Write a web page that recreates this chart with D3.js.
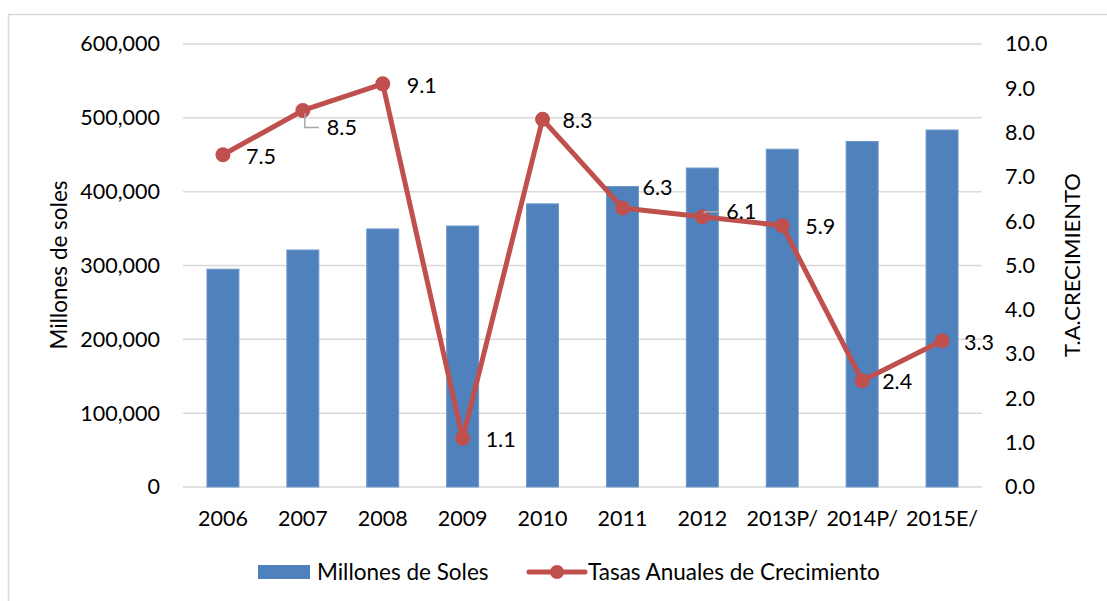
<!DOCTYPE html>
<html>
<head>
<meta charset="utf-8">
<script src="https://cdn.jsdelivr.net/npm/d3@7"></script>
<style>
  body { margin: 0; background: #fff; }
  text { font-family: Lato, "Open Sans", sans-serif; fill: #000; }
</style>
</head>
<body>
<div id="chart"></div>
<script>
// data
var years = ["2006", "2007", "2008", "2009", "2010", "2011", "2012", "2013P/", "2014P/", "2015E/"];
var soles = [295000, 321000, 349500, 353500, 383500, 407000, 432000, 457500, 468000, 483500];
var tasas = [7.5, 8.5, 9.1, 1.1, 8.3, 6.3, 6.1, 5.9, 2.4, 3.3];
var solesTicks = [0, 100000, 200000, 300000, 400000, 500000, 600000];
var tasasTicks = [0, 1, 2, 3, 4, 5, 6, 7, 8, 9, 10];

// where each rate label sits relative to its point [dx, dy]
var labelShift = [[23, 2], [24, 17], [24, 2], [23, 1], [20, 1], [20, -20], [24, -5], [23, 1], [20, 1], [22, 2]];

var width = 1107, height = 601;
var blue = "#4F81BD", red = "#C0504D", grid = "#D9D9D9";
var fs = 21.5;

var svg = d3.select("#chart").append("svg")
    .attr("width", width)
    .attr("height", height);

// chart border
svg.append("rect")
    .attr("x", 8.5)
    .attr("y", 14.5)
    .attr("width", 1200)
    .attr("height", 700)
    .attr("fill", "none")
    .attr("stroke", grid)
    .attr("stroke-width", 1.5);

var x = d3.scaleBand().domain(years).range([183, 982]);
var yLeft = d3.scaleLinear().domain([0, 600000]).range([487, 44]);
var yRight = d3.scaleLinear().domain([0, 10]).range([487, 44]);

// gridlines
svg.append("g").selectAll("line")
    .data(solesTicks)
    .enter().append("line")
    .attr("x1", 183)
    .attr("x2", 982)
    .attr("y1", function(d) { return yLeft(d); })
    .attr("y2", function(d) { return yLeft(d); })
    .attr("stroke", grid)
    .attr("stroke-width", 1.5);

// left axis
var leftAxis = svg.append("g")
    .attr("transform", "translate(183,0)")
    .call(d3.axisLeft(yLeft).tickValues(solesTicks).tickSize(0).tickPadding(23)
        .tickFormat(d3.format(",")));
// right axis
var rightAxis = svg.append("g")
    .attr("transform", "translate(982,0)")
    .call(d3.axisRight(yRight).tickValues(tasasTicks).tickSize(0).tickPadding(23)
        .tickFormat(d3.format(".1f")));
// bottom axis
var bottomAxis = svg.append("g")
    .attr("transform", "translate(0,487)")
    .call(d3.axisBottom(x).tickSize(0).tickPadding(24));

[leftAxis, rightAxis, bottomAxis].forEach(function(a) {
    a.select(".domain").remove();
    a.selectAll("text")
        .attr("font-family", "Lato, sans-serif")
        .attr("font-size", fs)
        .attr("fill", "#000");
});

// bars
var barW = x.bandwidth() * 0.4;
svg.append("g").selectAll("rect")
    .data(soles)
    .enter().append("rect")
    .attr("x", function(d, i) { return x(years[i]) + (x.bandwidth() - barW) / 2; })
    .attr("y", function(d) { return yLeft(d); })
    .attr("width", barW)
    .attr("height", function(d) { return yLeft(0) - yLeft(d); })
    .attr("fill", blue)
    .attr("stroke", "#7096C9")
    .attr("stroke-width", 1);

// rate line
var cx = function(i) { return x(years[i]) + x.bandwidth() / 2; };
var line = d3.line()
    .x(function(d, i) { return cx(i); })
    .y(function(d) { return yRight(d); });

svg.append("path")
    .datum(tasas)
    .attr("d", line)
    .attr("fill", "none")
    .attr("stroke", red)
    .attr("stroke-width", 5)
    .attr("stroke-linejoin", "round");

svg.append("g").selectAll("circle")
    .data(tasas)
    .enter().append("circle")
    .attr("cx", function(d, i) { return cx(i); })
    .attr("cy", function(d) { return yRight(d); })
    .attr("r", 7.5)
    .attr("fill", red);

// leader lines for the labels moved away from their points
[1, 6].forEach(function(i) {
    var px = cx(i) + 2, py = yRight(tasas[i]);
    var ty = py + labelShift[i][1];
    svg.append("path")
        .attr("d", "M" + px + "," + (py + (i === 1 ? 3 : -3)) + "V" + ty + "H" + (cx(i) + labelShift[i][0] - 8))
        .attr("fill", "none")
        .attr("stroke", "#A6A6A6")
        .attr("stroke-width", 1.5);
});

// rate labels
svg.append("g").selectAll("text")
    .data(tasas)
    .enter().append("text")
    .attr("x", function(d, i) { return cx(i) + labelShift[i][0]; })
    .attr("y", function(d, i) { return yRight(d) + labelShift[i][1]; })
    .attr("dy", "0.35em")
    .attr("font-size", fs)
    .text(function(d) { return d3.format(".1f")(d); });

// axis titles
svg.append("text")
    .attr("transform", "translate(67,265) rotate(-90)")
    .attr("text-anchor", "middle")
    .attr("font-size", 22.5)
    .text("Millones de soles");

svg.append("text")
    .attr("transform", "translate(1080,265) rotate(-90)")
    .attr("text-anchor", "middle")
    .attr("font-size", 22)
    .text("T.A.CRECIMIENTO");

// legend
var legend = svg.append("g");
legend.append("rect")
    .attr("x", 258)
    .attr("y", 565)
    .attr("width", 52)
    .attr("height", 14)
    .attr("fill", blue);
legend.append("text")
    .attr("x", 317)
    .attr("y", 572)
    .attr("dy", "0.35em")
    .attr("font-size", 22.5)
    .text("Millones de Soles");
legend.append("line")
    .attr("x1", 529)
    .attr("x2", 585)
    .attr("y1", 572)
    .attr("y2", 572)
    .attr("stroke", red)
    .attr("stroke-width", 5)
    .attr("stroke-linecap", "round");
legend.append("circle")
    .attr("cx", 557)
    .attr("cy", 572)
    .attr("r", 7)
    .attr("fill", red);
legend.append("text")
    .attr("x", 588)
    .attr("y", 572)
    .attr("dy", "0.35em")
    .attr("font-size", 22.5)
    .text("Tasas Anuales de Crecimiento");
</script>
</body>
</html>
